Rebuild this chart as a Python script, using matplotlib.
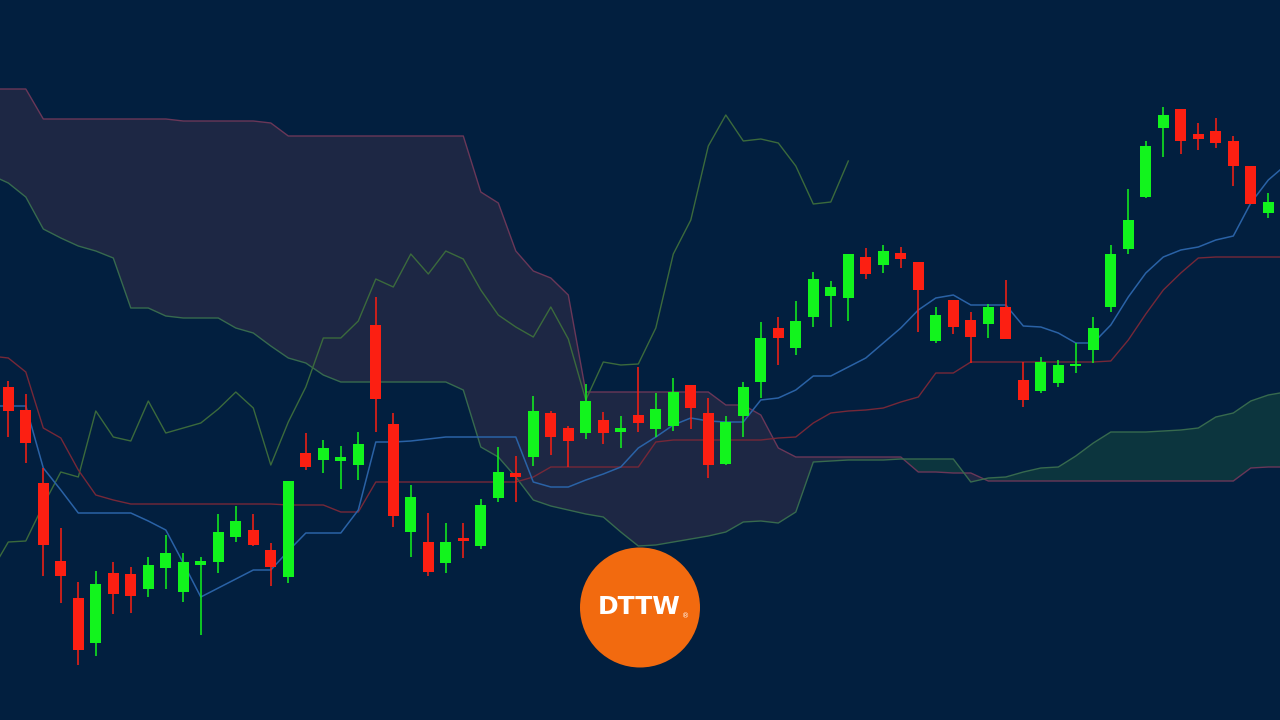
import numpy as np
import matplotlib.pyplot as plt
from matplotlib.patches import Ellipse

# Ichimoku chart, levels (row from the top, 720 rows high)
# they get turned into prices further down: price = 720 - row
open_row = [387, 410, 483, 561, 598, 643, 573, 574, 589, 568,
            592, 565, 562, 537, 530, 550, 577, 453, 460, 461,
            465, 325, 424, 532, 542, 563, 538, 546, 498, 473,
            457, 413, 428, 433, 420, 432, 415, 429, 426, 385,
            413, 464, 416, 382, 328, 348, 317, 296, 298, 257,
            265, 253, 262, 341, 300, 320, 324, 307, 380, 391,
            383, 366, 350, 307, 249, 197, 128, 109, 134, 131,
            141, 166, 213]
high_row = [381, 394, 468, 528, 582, 571, 562, 567, 557, 535,
            553, 557, 514, 506, 514, 543, 481, 433, 440, 446,
            432, 297, 413, 485, 513, 523, 523, 499, 447, 456,
            396, 411, 426, 384, 412, 416, 367, 393, 378, 385,
            398, 416, 382, 322, 317, 301, 272, 281, 254, 248,
            245, 247, 262, 307, 300, 312, 304, 280, 362, 357,
            360, 343, 317, 245, 189, 141, 107, 109, 123, 118,
            136, 166, 193]
low_row = [437, 463, 576, 603, 665, 656, 614, 613, 597, 589,
           602, 635, 573, 542, 546, 586, 583, 470, 473, 489,
           480, 432, 527, 557, 576, 573, 558, 549, 502, 502,
           466, 455, 467, 439, 444, 448, 432, 437, 431, 429,
           478, 465, 437, 398, 365, 355, 327, 327, 321, 279,
           273, 268, 332, 343, 334, 363, 338, 339, 407, 393,
           387, 373, 363, 312, 254, 198, 157, 154, 150, 148,
           186, 204, 218]
close_row = [411, 443, 545, 576, 650, 584, 594, 596, 565, 553,
             562, 561, 532, 521, 545, 567, 481, 467, 448, 457,
             444, 399, 516, 497, 572, 542, 541, 505, 472, 477,
             411, 437, 441, 401, 433, 428, 423, 409, 392, 408,
             465, 422, 387, 338, 338, 321, 279, 287, 254, 274,
             251, 259, 290, 315, 327, 337, 307, 339, 400, 362,
             365, 364, 328, 254, 220, 146, 115, 141, 139, 143,
             166, 204, 202]
# close of the next bar, just off the right edge (only the lagging line shows it)
next_close_row = 161

# indicator lines, one value per bar from bar -1 to bar 73
tenkan_row = [406, 406, 406, 468, 490, 513, 513, 513, 513, 521,
              530, 563, 597, 588, 579, 570, 570, 551, 533, 533,
              533, 510, 442, 442, 441, 439, 437, 437, 437, 437,
              437, 482, 487, 487, 480, 474, 467, 448, 437, 425,
              418, 421, 422, 422, 400, 398, 390, 376, 376, 367,
              358, 343, 328, 310, 298, 295, 305, 305, 305, 326,
              327, 333, 343, 343, 325, 297, 273, 257, 250, 247,
              240, 236, 203, 180, 165]
kijun_row = [356, 358, 372, 428, 438, 470, 495, 500, 504, 504,
             504, 504, 504, 504, 504, 504, 504, 505, 505, 505,
             512, 512, 482, 482, 482, 482, 482, 482, 482, 482,
             482, 477, 467, 467, 467, 467, 467, 467, 442, 440,
             440, 440, 440, 440, 440, 438, 437, 423, 413, 411,
             410, 408, 402, 397, 373, 373, 362, 362, 362, 362,
             362, 362, 362, 362, 361, 340, 314, 290, 273, 258,
             257, 257, 257, 257, 257]
span_a_row = [175, 183, 197, 229, 238, 246, 251, 258, 308, 308,
              316, 318, 318, 318, 328, 333, 346, 358, 363, 375,
              382, 382, 382, 382, 382, 382, 382, 390, 447, 457,
              477, 500, 506, 510, 514, 517, 532, 546, 545, 542,
              539, 536, 532, 522, 521, 523, 512, 462, 461, 460,
              460, 460, 459, 459, 459, 459, 482, 478, 477, 472,
              468, 467, 456, 443, 432, 432, 432, 431, 430, 428,
              417, 413, 401, 395, 392]
span_b_row = [89, 89, 89, 119, 119, 119, 119, 119, 119, 119,
              119, 121, 121, 121, 121, 121, 123, 136, 136, 136,
              136, 136, 136, 136, 136, 136, 136, 136, 192, 203,
              251, 271, 278, 295, 392, 392, 392, 392, 392, 392,
              392, 392, 405, 405, 415, 448, 457, 457, 457, 457,
              457, 457, 457, 472, 472, 473, 473, 481, 481, 481,
              481, 481, 481, 481, 481, 481, 481, 481, 481, 481,
              481, 481, 468, 467, 467]
CHIKOU_SHIFT = 25

bg = '#021f3f'
up_col = '#12f41d'
down_col = '#fc1f12'

to_price = lambda rows: 720 - np.asarray(rows, dtype=float)
o, h, l, c = (to_price(v) for v in (open_row, high_row, low_row, close_row))
n = len(c)
bars = np.arange(n)
ext = np.arange(-1, n + 1)  # bars used by the indicator lines

tenkan = to_price(tenkan_row)
kijun = to_price(kijun_row)
span_a = to_price(span_a_row)
span_b = to_price(span_b_row)
all_close = np.append(c, to_price([next_close_row]))
chikou_x = np.arange(-1, n + 1 - CHIKOU_SHIFT)
chikou = all_close[chikou_x + CHIKOU_SHIFT]

fig = plt.figure(figsize=(12.8, 7.2), dpi=100, facecolor=bg)
ax = fig.add_axes([0, 0, 1, 1])
ax.set_facecolor(bg)

# cloud
ax.fill_between(ext, span_a, span_b, where=span_b >= span_a, interpolate=True,
                color='#1d2744', lw=0, zorder=1)
ax.fill_between(ext, span_a, span_b, where=span_a >= span_b, interpolate=True,
                color='#0c353e', lw=0, zorder=1)
ax.plot(ext, span_b, color='#6a3758', lw=1.0, zorder=2)
ax.plot(ext, span_a, color='#376a4e', lw=1.0, zorder=2)

ax.plot(chikou_x, chikou, color='#3b6a3c', lw=1.0, zorder=3)
ax.plot(ext, kijun, color='#762838', lw=1.0, zorder=3)
ax.plot(ext, tenkan, color='#2a62a6', lw=1.1, zorder=3)

# candles
cols = np.where(c >= o, up_col, down_col)
ax.vlines(bars, l, h, colors=cols, lw=1.1, zorder=4)
body = np.abs(c - o)
body = np.maximum(body, 2.0)
ax.bar(bars, body, bottom=np.minimum(o, c), width=0.64, color=cols,
       lw=0, zorder=5)

ax.set_xlim(-8.3 / 17.5, (1280 - 8.3) / 17.5)
ax.set_ylim(0, 720)
ax.set_axis_off()

# logo
fig.add_artist(Ellipse((640 / 1280, 1 - 607.5 / 720), 120 / 1280, 120 / 720,
                       transform=fig.transFigure, color='#f26a0f', lw=0))
fig.text(639 / 1280, 1 - 607 / 720, 'DTTW', ha='center', va='center',
         fontsize=18, fontweight='bold', color='white', family='DejaVu Sans')
fig.text(686 / 1280, 1 - 616 / 720, '®', ha='center', va='center',
         fontsize=5, color='white')

fig.savefig('out.png', dpi=100, facecolor=bg)
